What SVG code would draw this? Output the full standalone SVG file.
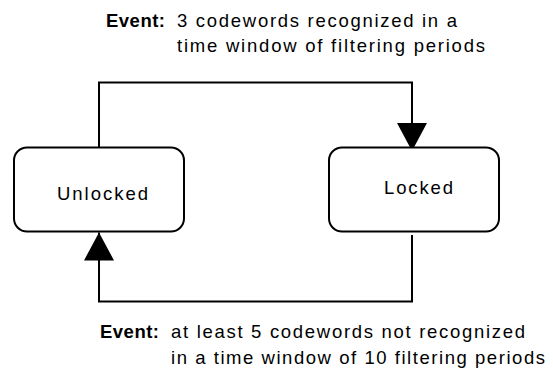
<svg xmlns="http://www.w3.org/2000/svg" width="553" height="374" viewBox="0 0 553 374">
<defs>
<style>
.box{fill:#fff;stroke:#000;stroke-width:2}
.t{font-family:"Liberation Sans",Arial,sans-serif;font-size:18.5px;fill:#000}
.ev{font-family:"Liberation Sans",Arial,sans-serif;font-size:18.5px;font-weight:bold;fill:#000}
.con{fill:none;stroke:#000;stroke-width:2}
</style>
<marker id="arr" markerUnits="userSpaceOnUse" markerWidth="30" markerHeight="30" viewBox="0 0 28 29" refX="27" refY="14.5" orient="auto">
<path d="M0,0 L27,14.5 L0,29 Z" fill="#000"/>
</marker>
</defs>
<g id="connectors">
<path class="con" d="M99,147.5 V82.5 H412 V151" marker-end="url(#arr)"/>
<path class="con" d="M412,235 V301.5 H99 V232.5" marker-end="url(#arr)"/>
</g>
<g id="unlocked">
<rect class="box" x="14" y="147.5" width="170" height="84" rx="13"/>
<text class="t" x="57" y="200" textLength="91" lengthAdjust="spacing">Unlocked</text>
</g>
<g id="locked">
<rect class="box" x="329" y="147.5" width="170" height="84" rx="13"/>
<text class="t" x="384" y="193.5" textLength="69" lengthAdjust="spacing">Locked</text>
</g>
<g id="event-top">
<text class="ev" x="106" y="26.5" textLength="59" lengthAdjust="spacing">Event:</text>
<text class="t" x="177" y="26.5" textLength="280" lengthAdjust="spacing">3 codewords recognized in a</text>
<text class="t" x="177" y="52" textLength="308" lengthAdjust="spacing">time window of filtering periods</text>
</g>
<g id="event-bottom">
<text class="ev" x="100" y="338" textLength="59" lengthAdjust="spacing">Event:</text>
<text class="t" x="171" y="338" textLength="354" lengthAdjust="spacing">at least 5 codewords not recognized</text>
<text class="t" x="171" y="363.5" textLength="374" lengthAdjust="spacing">in a time window of 10 filtering periods</text>
</g>
</svg>
